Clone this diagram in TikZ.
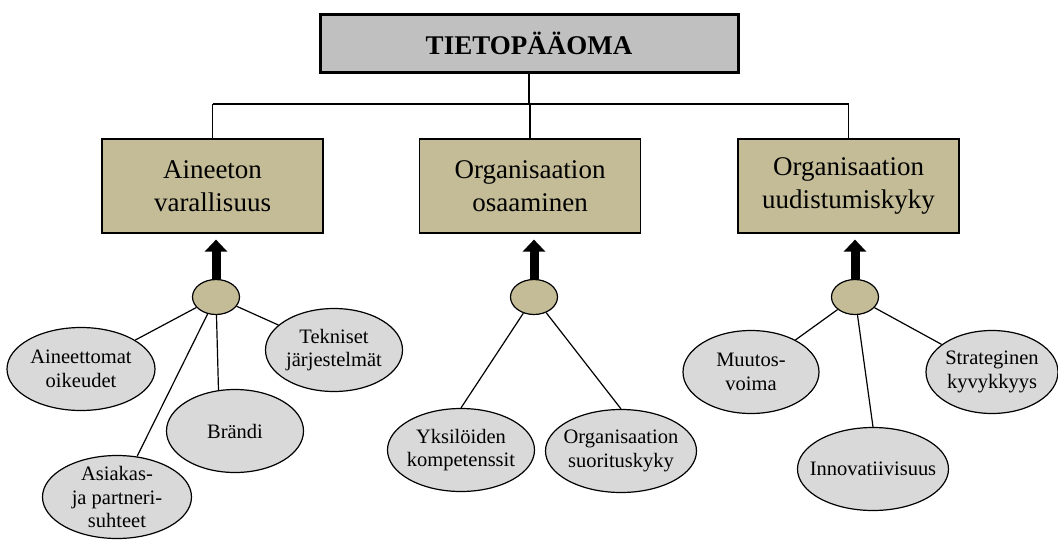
\documentclass[tikz,border=0pt]{standalone}
\usepackage{fontspec}
\setmainfont{Liberation Serif}
\usetikzlibrary{shapes.geometric,arrows.meta}
\definecolor{khaki}{RGB}{196,188,150}
\definecolor{titlegray}{RGB}{192,192,192}
\definecolor{leafgray}{RGB}{217,217,217}
\tikzset{
 mainbox/.style={draw,fill=khaki,minimum width=221pt,minimum height=94pt,align=center,font=\fontsize{27}{33}\selectfont},
 hub/.style={ellipse,draw,fill=khaki,minimum width=47pt,minimum height=35pt,inner sep=0pt},
 leaf/.style={ellipse,draw,fill=leafgray,minimum height=83pt,inner sep=-20pt,align=center,font=\fontsize{20.5}{23.5}\selectfont},
 uparrow/.style={line width=9pt,-{Triangle[width=22pt,length=12pt]},shorten >=6pt}
}
\begin{document}
\begin{tikzpicture}[x=1pt,y=-1pt,line width=1.2pt]
\useasboundingbox (0,0) rectangle (1058,541);
\node[draw,fill=titlegray,line width=3pt,minimum width=418pt,minimum height=58pt,font=\fontsize{27}{33}\selectfont\bfseries] (top) at (529,43) {TIETOPÄÄOMA};
\node[mainbox] (av) at (212.5,186) {Aineeton\\varallisuus};
\node[mainbox] (oo) at (530,186) {Organisaation\\osaaminen};
\node[mainbox] (ou) at (848.5,186) {Organisaation\\uudistumiskyky};
\coordinate (bus) at (0,104);
\draw (av.north |- bus) -- (ou.north |- bus);
\draw (top) -- (top |- bus);
\foreach \b in {av,oo,ou}{\draw (\b) -- (\b |- bus);}
% hubs and arrows
\foreach \h/\x/\b in {h1/216/av,h2/534/oo,h3/855/ou}{
 \node[hub] (\h) at (\x,297) {};
 \draw[uparrow] (\h.north) -- (\h.north |- \b.south);
}
% leaves
\foreach \n/\x/\y/\w/\t in {aoik/81/369/148/{Aineettomat\\oikeudet},asia/117/497/149/{Asiakas-\\ja partneri-\\suhteet},bra/235/431/137/{Brändi},tek/334/350/137/{Tekniset\\järjestelmät},yks/461/450/147/{Yksilöiden\\kompetenssit},osk/621/451/151/{Organisaation\\suorituskyky},muu/751/372/136/{Muutos-\\voima},inn/873/469/151/{Innovatiivisuus},str/992/372/132/{Strateginen\\kyvykkyys}}{
 \node[leaf,minimum width=\w] (\n) at (\x,\y) {\t};
}
\draw (h1) -- (aoik);
\draw (h1) -- (asia);
\draw (h1) -- (bra.112);
\draw (h1) -- (tek);
\draw (h2) -- (yks.north);
\draw (h2) -- (osk.north);
\draw (h3) -- (muu);
\draw (h3) -- (inn.north);
\draw (h3) -- (str);
\end{tikzpicture}
\end{document}
